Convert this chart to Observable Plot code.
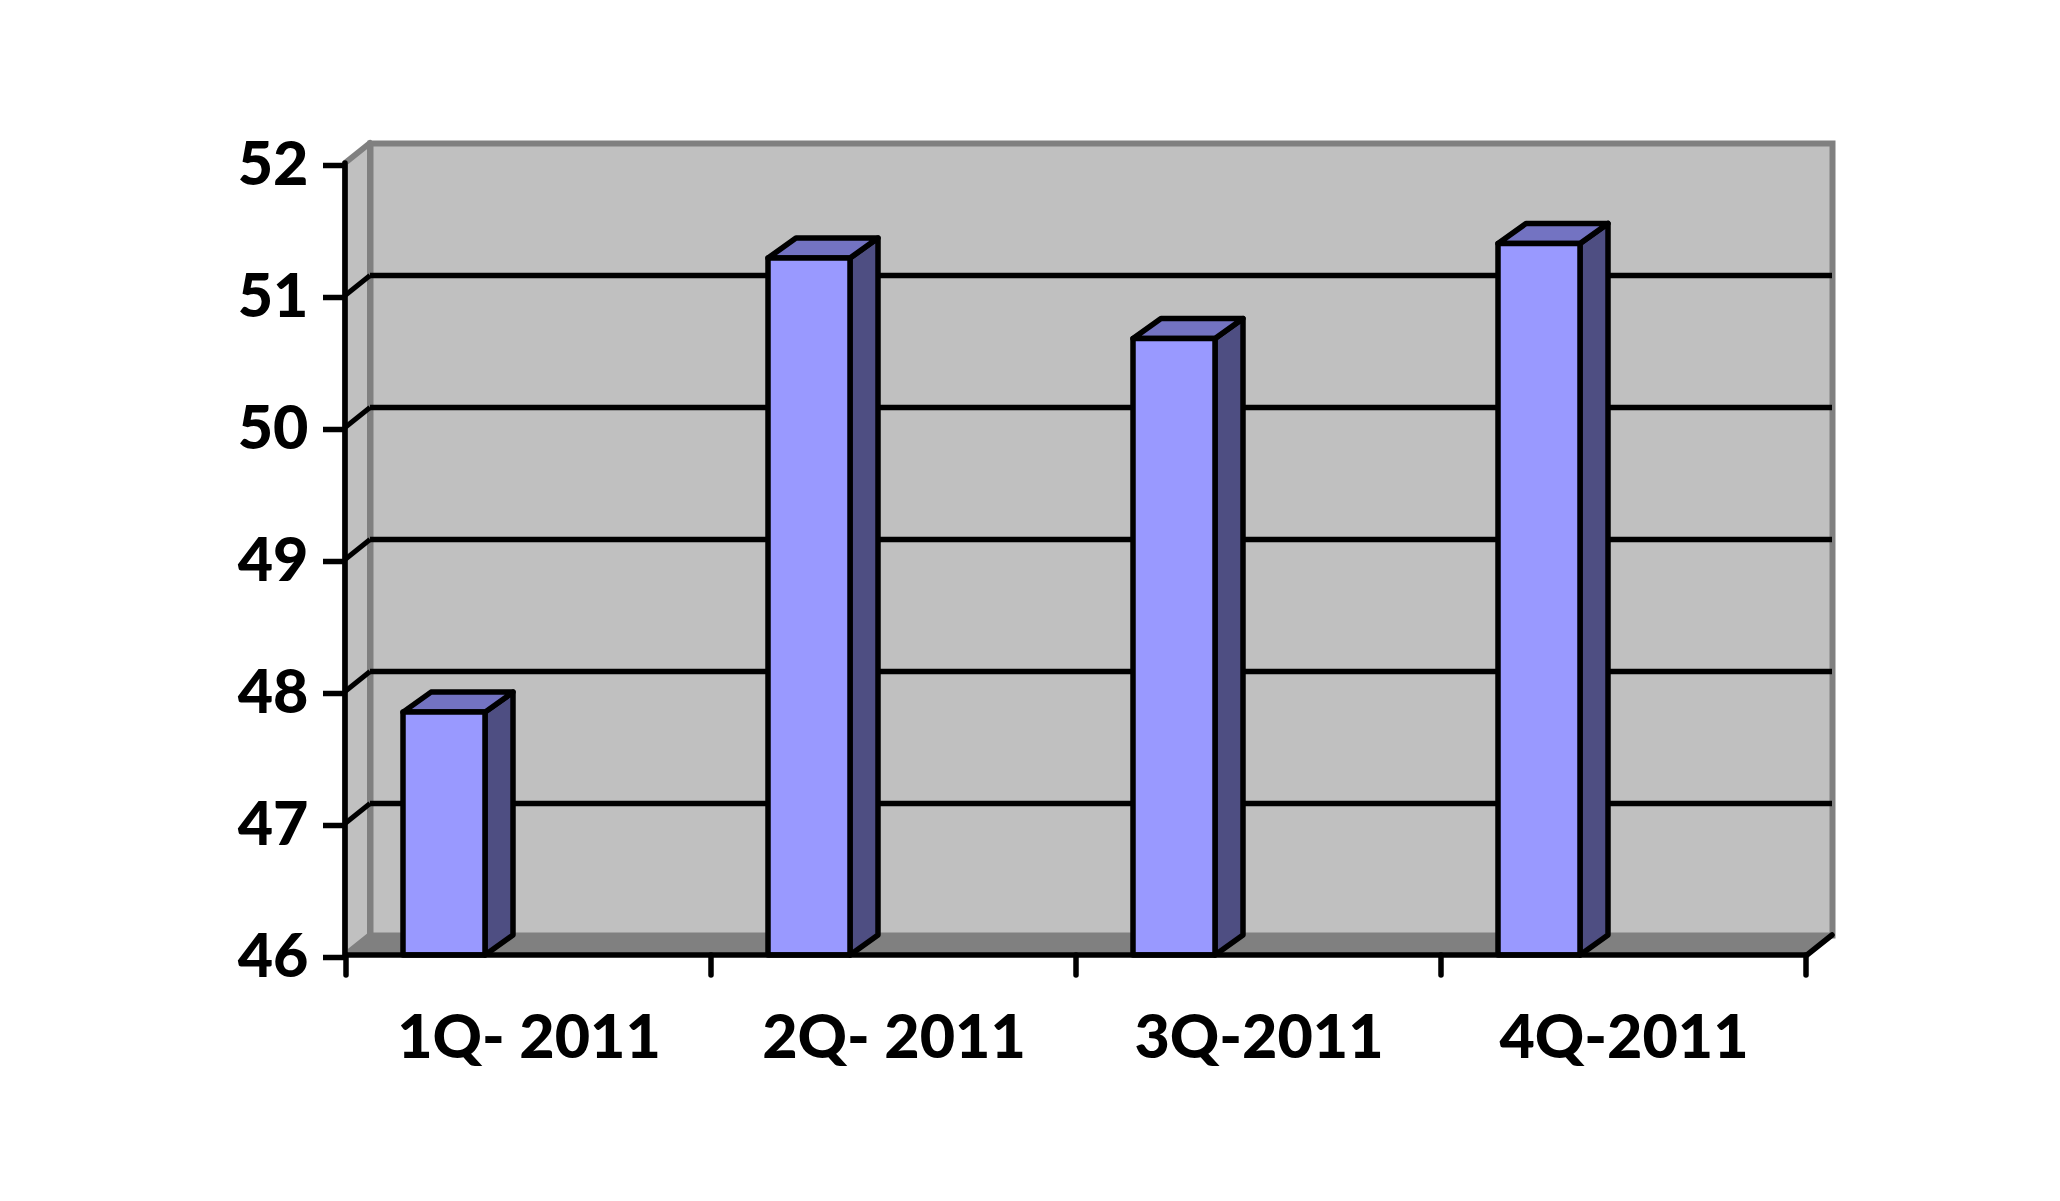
<!DOCTYPE html>
<html>
<head>
<meta charset="utf-8">
<script src="https://cdn.jsdelivr.net/npm/d3@7"></script>
<script src="https://cdn.jsdelivr.net/npm/@observablehq/plot@0.6"></script>
<style>
  html, body { margin: 0; padding: 0; background: #ffffff; }
  #chart svg { display: block; }
</style>
</head>
<body>
<div id="chart"></div>
<script>
// ---- data ----
const quarters = ["1Q- 2011", "2Q- 2011", "3Q-2011", "4Q-2011"];
const values = [47.84, 51.28, 50.67, 51.39];
const yTicks = [46, 47, 48, 49, 50, 51, 52];
const gridValues = [47, 48, 49, 50, 51];
const yDomain = [46, 52];

const data = quarters.map((q, i) => ({q, v: values[i]}));

// ---- 3D styling constants ----
const DX = 25, DY = 20;     // wall depth
const BDX = 28, BDY = 20;   // bar depth
const svgNS = "http://www.w3.org/2000/svg";

function replaceRects(g, makeD) {
  g.querySelectorAll("rect").forEach(r => {
    const x = +r.getAttribute("x"), y = +r.getAttribute("y");
    const w = +r.getAttribute("width"), h = +r.getAttribute("height");
    const p = document.createElementNS(svgNS, "path");
    p.setAttribute("d", makeD(x, y, w, h));
    for (const a of ["fill", "stroke", "stroke-width", "transform"]) {
      if (r.hasAttribute(a)) p.setAttribute(a, r.getAttribute(a));
    }
    r.replaceWith(p);
  });
  return g;
}

function el(name, attrs) {
  const e = document.createElementNS(svgNS, name);
  for (const k in attrs) e.setAttribute(k, attrs[k]);
  return e;
}

function bandInfo(scales) {
  const X = scales.x;
  const S = (scales.scales && scales.scales.x) || X;
  const f = typeof X === "function" ? X : (v) => X.apply(v);
  let bw = typeof X.bandwidth === "function" ? X.bandwidth() : X.bandwidth;
  if (bw == null && S) bw = typeof S.bandwidth === "function" ? S.bandwidth() : S.bandwidth;
  return {f, bw};
}

// left wall + floor
function wallsMark(index, scales, values, dims) {
  const L = dims.marginLeft, R = dims.width - dims.marginRight;
  const T = dims.marginTop, B = dims.height - dims.marginBottom;
  const g = el("g", {});
  g.appendChild(el("path", {
    d: `M${L},${T}L${L + DX},${T - DY}L${L + DX},${B - DY}L${L},${B}Z`,
    fill: "#c0c0c0", stroke: "#808080", "stroke-width": 6, "stroke-linejoin": "round"
  }));
  g.appendChild(el("path", {
    d: `M${L},${B}L${R},${B}L${R + DX},${B - DY}L${L + DX},${B - DY}Z`,
    fill: "#808080"
  }));
  return g;
}

// axis lines and category boundary ticks
function axesMark(index, scales, values, dims) {
  const L = dims.marginLeft, R = dims.width - dims.marginRight;
  const T = dims.marginTop, B = dims.height - dims.marginBottom;
  const g = el("g", {stroke: "#000", "stroke-width": 5.5, fill: "none", "stroke-linecap": "round"});
  g.appendChild(el("path", {d: `M${L},${T}L${L},${B}L${R},${B}L${R + DX},${B - DY}`, "stroke-linejoin": "miter"}));
  const {f, bw} = bandInfo(scales);
  const xs = quarters.map(q => f(q));
  xs.push(f(quarters[quarters.length - 1]) + bw);
  for (const x of xs) g.appendChild(el("line", {x1: x, x2: x, y1: B, y2: B + 20}));
  return g;
}

const barOpts = {
  x: "q",
  y1: () => yDomain[0],
  y2: "v",
  insetLeft: 57,
  insetRight: 226,
  stroke: "#000",
  strokeWidth: 5.5,
  strokeLinejoin: "round"
};

const chart = Plot.plot({
  width: 2060,
  height: 1201,
  marginLeft: 345,
  marginRight: 253,
  marginTop: 163,
  marginBottom: 246,
  style: {fontFamily: "Lato, 'Open Sans', sans-serif", color: "#000", background: "#fff"},
  x: {type: "band", domain: quarters, padding: 0},
  y: {domain: yDomain},
  marks: [
    // back wall
    Plot.frame({dx: DX, dy: -DY, fill: "#c0c0c0", stroke: "#808080", strokeWidth: 6}),
    wallsMark,
    // gridlines on back wall
    Plot.ruleY(gridValues, {dx: DX, dy: -DY, stroke: "#000", strokeWidth: 5.5}),
    // gridlines on left wall (diagonals)
    Plot.ruleY(gridValues, {
      stroke: "#000", strokeWidth: 5,
      render: (index, scales, vals, dims, ctx, next) => {
        const g = next(index, scales, vals, dims, ctx);
        g.querySelectorAll("line").forEach(l => {
          const x1 = +l.getAttribute("x1"), y1 = +l.getAttribute("y1");
          l.setAttribute("x2", x1 + DX);
          l.setAttribute("y2", y1 - DY);
        });
        return g;
      }
    }),
    // bar side faces
    Plot.barY(data, {
      ...barOpts, fill: "#4e4e82",
      render: (index, scales, vals, dims, ctx, next) =>
        replaceRects(next(index, scales, vals, dims, ctx),
          (x, y, w, h) => `M${x + w},${y}L${x + w + BDX},${y - BDY}L${x + w + BDX},${y + h - BDY}L${x + w},${y + h}Z`)
    }),
    // bar top faces
    Plot.barY(data, {
      ...barOpts, fill: "#7373c2",
      render: (index, scales, vals, dims, ctx, next) =>
        replaceRects(next(index, scales, vals, dims, ctx),
          (x, y, w, h) => `M${x},${y}L${x + BDX},${y - BDY}L${x + w + BDX},${y - BDY}L${x + w},${y}Z`)
    }),
    // bar front faces
    Plot.barY(data, {...barOpts, fill: "#9999ff"}),
    axesMark,
    Plot.axisY({
      ticks: yTicks, tickFormat: d => String(d), label: null,
      tickSize: 22, tickPadding: 15, strokeWidth: 5.5,
      fontSize: 61, fontWeight: 900, dy: 2
    }),
    Plot.axisX({
      label: null, tickSize: 0, tickPadding: 59,
      fontSize: 61, fontWeight: 900
    })
  ]
});

document.getElementById("chart").appendChild(chart);
</script>
</body>
</html>
